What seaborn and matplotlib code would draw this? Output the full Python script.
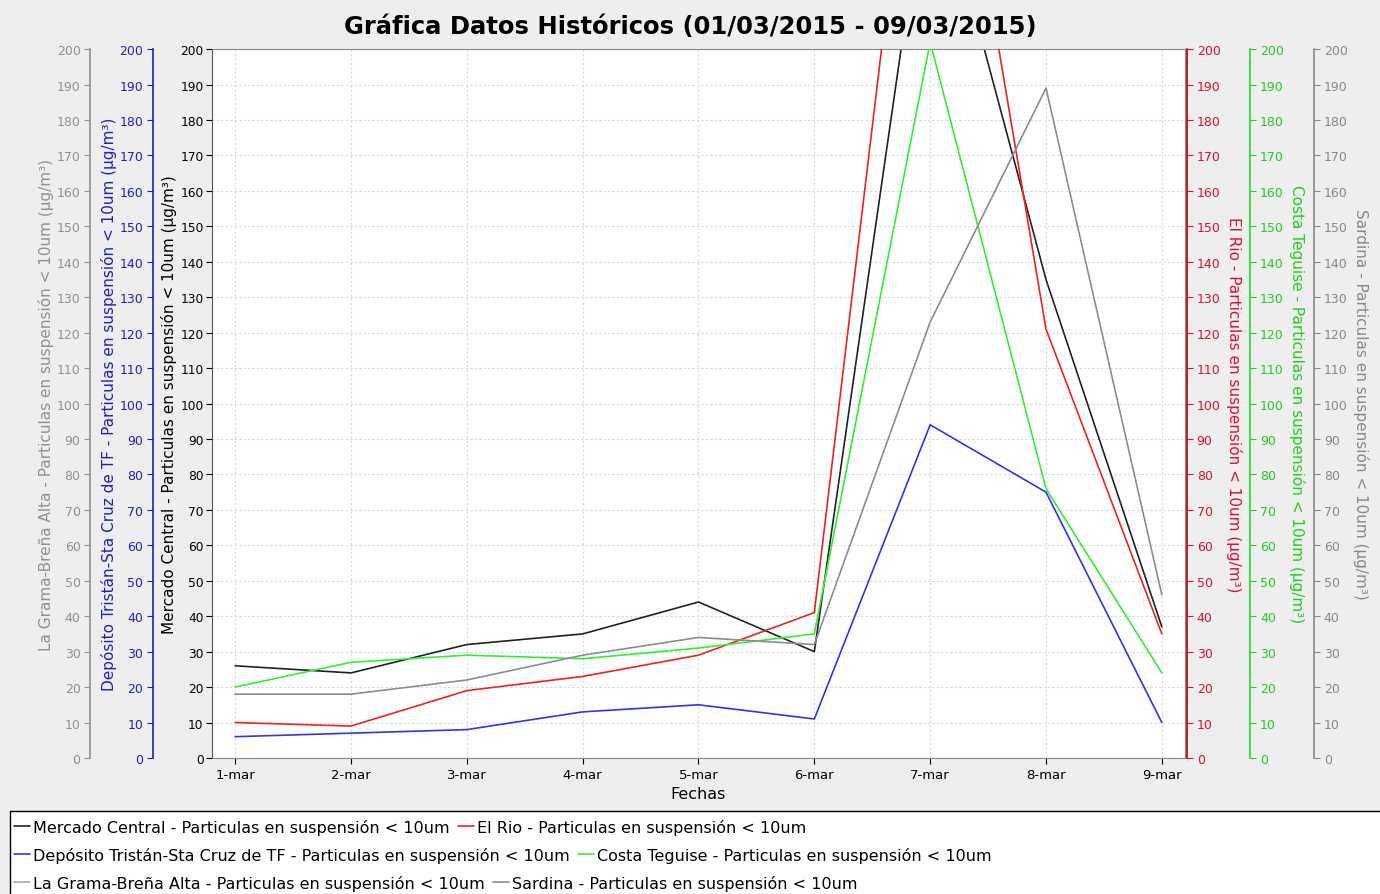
import numpy as np
import pandas as pd
import matplotlib
matplotlib.use("Agg")
import matplotlib.pyplot as plt
import seaborn as sns
from matplotlib.patches import Rectangle

# ---------------- data ----------------
days = ["1-mar", "2-mar", "3-mar", "4-mar", "5-mar", "6-mar", "7-mar", "8-mar", "9-mar"]
mercado = [26, 24, 32, 35, 44, 30, 257, 135, 37]
el_rio = [10, 9, 19, 23, 29, 41, 315, 121, 35]
deposito = [6, 7, 8, 13, 15, 11, 94, 75, 10]
costa = [20, 27, 29, 28, 31, 35, 202, 76, 24]
la_grama = [np.nan] * 9
sardina = [18, 18, 22, 29, 34, 32, 123, 189, 46]

suffix = " - Particulas en suspensión < 10um"
unit = " (µg/m³)"
names = ["Mercado Central", "El Rio", "Depósito Tristán-Sta Cruz de TF",
         "Costa Teguise", "La Grama-Breña Alta", "Sardina"]

sns.set_style("white")
plt.rcParams["font.family"] = ["DejaVu Sans"]
plt.rcParams["text.color"] = "black"
plt.rcParams["axes.labelcolor"] = "black"

fig = plt.figure(figsize=(13.8, 8.95), dpi=100)
fig.patch.set_facecolor("#eeeeee")

ax = fig.add_axes([0.1536, 0.152, 0.7051, 0.792])
ax.set_facecolor("white")
ax.set_xlim(-0.2, 8.2)
ax.set_ylim(0, 200)
ax.set_yticks(range(0, 201, 10))
ax.set_xticks(range(len(days)))
ax.set_xticklabels(days)
ax.grid(True, color="#d8d8d8", linestyle=(0, (2, 2)), linewidth=0.8)
for s in ax.spines.values():
    s.set_color("#888888")
ax.spines["left"].set_color("#555555")
ax.tick_params(axis="y", colors="black", labelsize=8.8, length=4, pad=2, direction="out", left=True)
ax.tick_params(axis="x", colors="black", labelsize=9.5, length=4, direction="out", bottom=True)
ax.set_xlabel("Fechas", fontsize=11.5, labelpad=3)
ax.set_ylabel("Mercado Central" + suffix + unit, fontsize=11, labelpad=2)

x = np.arange(len(days))


def make_twin(side, pos, spine_color, tick_color, label, rot):
    t = ax.twinx()
    t.set_ylim(0, 200)
    t.set_yticks(range(0, 201, 10))
    for s in t.spines.values():
        s.set_visible(False)
    sp = t.spines[side]
    sp.set_visible(True)
    sp.set_position(("axes", pos))
    sp.set_color(spine_color)
    sp.set_linewidth(1.2)
    t.yaxis.set_ticks_position(side)
    t.yaxis.set_label_position(side)
    t.tick_params(axis="y", colors=tick_color, labelsize=9, length=4, pad=3, direction="out")
    t.grid(False)
    if rot == 270:
        t.set_ylabel(label, color=tick_color, fontsize=11, rotation=270, va="bottom", labelpad=4)
    else:
        t.set_ylabel(label, color=tick_color, fontsize=11, labelpad=2)
    return t


ax_grama = make_twin("left", -0.125, "#909090", "#909090", "La Grama-Breña Alta" + suffix + unit, 90)
ax_dep = make_twin("left", -0.0606, "#2020b0", "#2020c0", "Depósito Tristán-Sta Cruz de TF" + suffix + unit, 90)
ax_rio = make_twin("right", 1.002, "#b00000", "#dd1030", "El Rio" + suffix + unit, 270)
ax_costa = make_twin("right", 1.067, "#22dd22", "#22cc22", "Costa Teguise" + suffix + unit, 270)
ax_sard = make_twin("right", 1.1326, "#888888", "#888888", "Sardina" + suffix + unit, 270)

lw = 1.2
sns.lineplot(x=x, y=mercado, ax=ax, color="#222222", lw=lw)
sns.lineplot(x=x, y=el_rio, ax=ax_rio, color="#ee2222", lw=lw)
sns.lineplot(x=x, y=deposito, ax=ax_dep, color="#3333ee", lw=lw)
sns.lineplot(x=x, y=costa, ax=ax_costa, color="#33ee33", lw=lw)
ax_grama.plot(x, la_grama, color="#a8a8a8", lw=lw)
sns.lineplot(x=x, y=sardina, ax=ax_sard, color="#8c8c8c", lw=lw)

handles = [ax.lines[-1], ax_rio.lines[-1], ax_dep.lines[-1],
           ax_costa.lines[-1], ax_grama.lines[-1], ax_sard.lines[-1]]

fig.suptitle("Gráfica Datos Históricos (01/03/2015 - 09/03/2015)",
             fontsize=17.5, fontweight="bold", y=0.970, va="center", color="black")

# legend box
fig.patches.append(Rectangle((10 / 1380, -0.01), 1.0, (895 - 812) / 895 + 0.01,
                             transform=fig.transFigure, facecolor="white",
                             edgecolor="black", lw=1, zorder=0))
row_y = [828, 856, 884]
for i, yy in enumerate(row_y):
    hs = handles[2 * i:2 * i + 2]
    ls = [names[2 * i] + suffix, names[2 * i + 1] + suffix]
    fig.legend(hs, ls, loc="center left", bbox_to_anchor=(14 / 1380, 1 - yy / 895),
               ncol=2, frameon=False, fontsize=11.5, handlelength=1.0,
               handletextpad=0.2, columnspacing=0.5, borderpad=0, borderaxespad=0,
               labelcolor="black")

fig.savefig("out.png", dpi=100, facecolor=fig.get_facecolor())
